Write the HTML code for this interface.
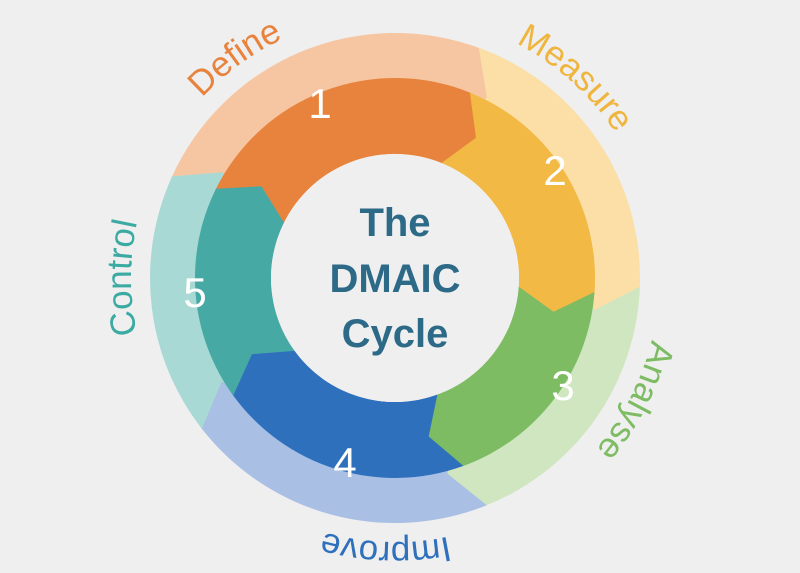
<!DOCTYPE html>
<html><head><meta charset="utf-8"><style>
html,body{margin:0;padding:0;background:#efefef;}
svg{display:block}
</style></head><body>
<svg id="s" width="800" height="573" viewBox="0 0 800 573" xmlns="http://www.w3.org/2000/svg">
<rect width="800" height="573" fill="#efefef"/>
<g id="g"></g>
<circle cx="395" cy="278" r="124" fill="#efefef"/>
<g font-family="'Liberation Sans',sans-serif" font-weight="bold" fill="#2c6a88" font-size="40" text-anchor="middle">
<text x="395" y="236">The</text>
<text x="395" y="292">DMAIC</text>
<text x="395" y="347">Cycle</text>
</g>
<g font-family="'Liberation Sans',sans-serif" fill="#fff" font-size="42" text-anchor="middle">
<text x="320" y="118">1</text>
<text x="555" y="185">2</text>
<text x="563" y="400">3</text>
<text x="345" y="477">4</text>
<text x="195" y="307">5</text>
</g>
<g id="lab" font-family="'Liberation Sans',sans-serif" font-size="35"></g>
</svg>
<script>
var cx=395,cy=278,NS="http://www.w3.org/2000/svg";
function P(a,r){var t=a*Math.PI/180;return (cx+r*Math.sin(t)).toFixed(1)+","+(cy-r*Math.cos(t)).toFixed(1);}
function seg(a0,a1,ri,ro,tip){
  var rm=(ri+ro)/2;
  var d="M"+P(a0,ro)+" A"+ro+","+ro+" 0 0 1 "+P(a1,ro)+" L"+P(a1+tip,rm)+" L"+P(a1,ri)+
   " A"+ri+","+ri+" 0 0 0 "+P(a0,ri)+" L"+P(a0+tip,rm)+" Z";
  return d;
}
var b=[-66,20,92,158,232,294];
var light=["#f6c6a2","#fbdfa6","#cfe6c0","#a9bfe4","#a9d9d4"];
var dark=["#e8833e","#f2b944","#7dbc63","#2f70bd","#47a9a3"];
var lc=["#e8833e","#efb53e","#7dbc63","#2f70bd","#3aaaa3"];
var g=document.getElementById("g"),h="";
for(var i=0;i<5;i++){
  h+='<path d="'+seg(b[i],b[i+1]+0.5,160,245,7)+'" fill="'+light[i]+'"/>';
}
for(var i=0;i<5;i++){
  h+='<path d="'+seg(b[i]+2,b[i+1]+2.5,124,200,8)+'" fill="'+dark[i]+'"/>';
}
g.innerHTML=h;
var names=["Define","Measure","Analyse","Improve","Control"],ang=[-36,42,117,182,270];
var L="";
for(var i=0;i<5;i++){
  var r=264,a=ang[i];
  L+='<path id="p'+i+'" d="M'+P(a-60,r)+' A'+r+','+r+' 0 0 1 '+P(a+60,r)+'" fill="none"/>';
  L+='<text fill="'+lc[i]+'"><textPath href="#p'+i+'" startOffset="50%" text-anchor="middle">'+names[i]+'</textPath></text>';
}
document.getElementById("lab").innerHTML=L;
</script>
</body></html>
